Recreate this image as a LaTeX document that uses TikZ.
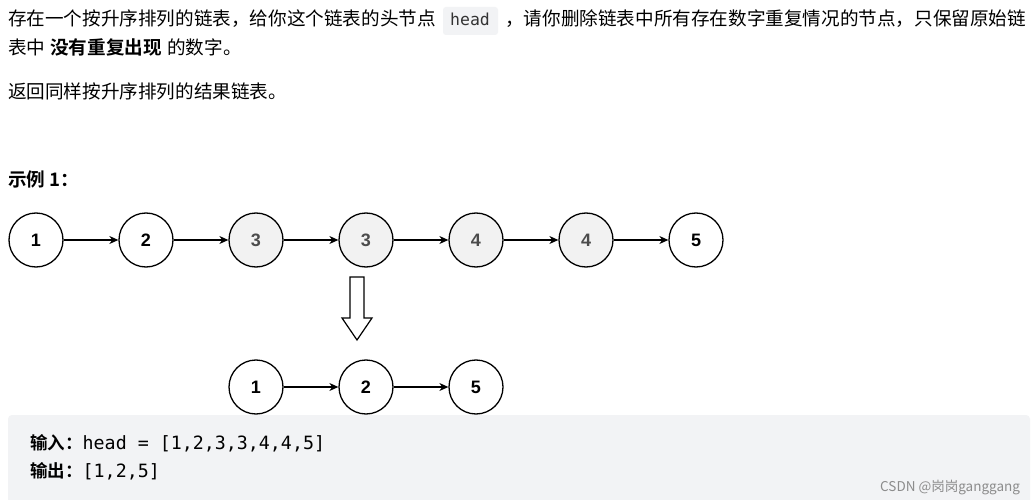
\documentclass[tikz,border=0pt]{standalone}
\usepackage{fontspec}
\setmainfont{Noto Sans CJK SC}
\newfontfamily\cjkb{Noto Sans CJK SC Bold}
\setmonofont{DejaVu Sans Mono}
\newfontfamily\arialf{Liberation Sans}
\usetikzlibrary{arrows.meta,shapes.arrows}
\definecolor{codebg}{HTML}{F2F3F5}
\definecolor{dupfill}{HTML}{F2F2F2}
\tikzset{
  nd/.style={circle,draw,line width=1.3pt,minimum size=54pt,inner sep=0pt,fill=white,font=\arialf\fontsize{18}{18}\selectfont\bfseries},
  dup/.style={nd,fill=dupfill,text=black!70},
  lk/.style={-{Stealth[length=9pt,width=8pt]},line width=1.1pt},
  txt/.style={anchor=base west,inner sep=0pt,font=\fontsize{18.6}{20}\selectfont}
}
\begin{document}
\begin{tikzpicture}[x=1pt,y=-1pt]
\useasboundingbox (0,0) rectangle (1034,500);
\fill[white] (0,0) rectangle (1034,500);
\node[txt] (t1) at (8,26) {存在一个按升序排列的链表，给你这个链表的头节点};
\fill[codebg,rounded corners=3pt] (443,7) rectangle (498,35);
\node[txt,anchor=base,font=\ttfamily\fontsize{16.5}{16}\selectfont,text=black!80] (hd) at (470,26) {head};
\node[txt] (t2) at (505,26) {，请你删除链表中所有存在数字重复情况的节点，只保留原始链};
\node[txt] (t3) at (8,55) {表中};
\node[txt,font=\cjkb\fontsize{18.6}{20}\selectfont] (t4) at (50,55) {没有重复出现};
\node[txt] (t5) at (167,55) {的数字。};
\node[txt] (t6) at (8,99) {返回同样按升序排列的结果链表。};
\node[txt,font=\cjkb\fontsize{18.6}{20}\selectfont] (ex) at (8,186) {示例 1：};
\foreach \i/\x/\s in {1/36/nd,2/146/nd,3/256/dup,4/366/dup,5/476/dup,6/586/dup,7/696/nd}{
  \node[\s] (a\i) at (\x,240) {};
}
\node at (a1) [font=\arialf\fontsize{18}{18}\selectfont\bfseries] {1};
\node at (a2) [font=\arialf\fontsize{18}{18}\selectfont\bfseries] {2};
\node at (a3) [font=\arialf\fontsize{18}{18}\selectfont\bfseries,text=black!70] {3};
\node at (a4) [font=\arialf\fontsize{18}{18}\selectfont\bfseries,text=black!70] {3};
\node at (a5) [font=\arialf\fontsize{18}{18}\selectfont\bfseries,text=black!70] {4};
\node at (a6) [font=\arialf\fontsize{18}{18}\selectfont\bfseries,text=black!70] {4};
\node at (a7) [font=\arialf\fontsize{18}{18}\selectfont\bfseries] {5};
\foreach \i/\j in {1/2,2/3,3/4,4/5,5/6,6/7}{ \draw[lk] (a\i) -- (a\j); }
\draw[line width=1.2pt,fill=white] (350,277) -- (364,277) -- (364,318) -- (372,318) -- (357,340) -- (342,318) -- (350,318) -- cycle;
\node[nd] (b1) at (256,387) {1};
\node[nd] (b2) at (366,387) {2};
\node[nd] (b3) at (476,387) {5};
\draw[lk] (b1) -- (b2);
\draw[lk] (b2) -- (b3);
\fill[codebg,rounded corners=4pt] (8,415) rectangle (1030,505);
\node[txt,font=\cjkb\fontsize{17.5}{18}\selectfont] (in) at (30,449) {输入：\ttfamily\mdseries\fontsize{18.3}{18}\selectfont head = [1,2,3,3,4,4,5]};
\node[txt,font=\cjkb\fontsize{17.5}{18}\selectfont] (out) at (30,477) {输出：\ttfamily\mdseries\fontsize{18.3}{18}\selectfont [1,2,5]};
\node[txt,font=\fontsize{13.5}{14}\selectfont,text=black!45] (wm) at (880,491) {CSDN @岗岗ganggang};
\end{tikzpicture}
\end{document}
